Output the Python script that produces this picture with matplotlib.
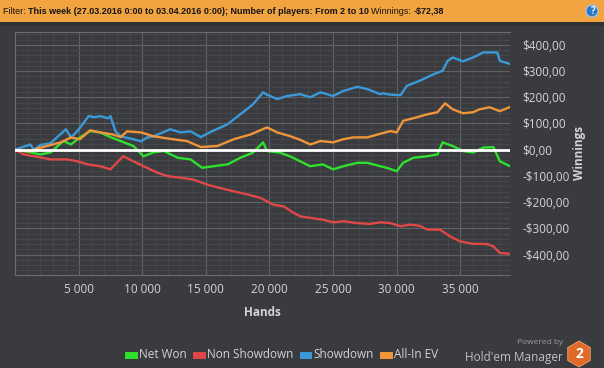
import numpy as np
import matplotlib
matplotlib.use("Agg")
import matplotlib.pyplot as plt
from matplotlib.ticker import MultipleLocator, FuncFormatter
from matplotlib.patches import Rectangle, RegularPolygon, Circle

# ---------------------------------------------------------
# Datos (manos, ganancias en $)
# ---------------------------------------------------------
net_hands = [0, 1200, 2000, 2800, 3800, 4400, 5100, 5900, 6700, 7500, 8300, 9300, 10100,
             10900, 11700, 12800, 13800, 14700, 15600, 16700, 17700, 18700, 19500, 19800,
             20800, 21600, 22400, 23200, 24200, 25000, 25800, 26900, 27700, 28700, 29200,
             30000, 30500, 31300, 32400, 33200, 33600, 34400, 35200, 36000, 36800, 37600,
             38100, 38900]
net_won = [0, -10, -18, -10, 33, 20, 47, 71, 66, 48, 33, 14, -25,
           -10, -5, -31, -37, -69, -63, -56, -31, -11, 28, -5,
           -11, -25, -44, -63, -56, -75, -63, -50, -50, -63, -69,
           -82, -50, -31, -25, -18, 28, 14, -5, -11, 8, 10,
           -44, -63]

nsd_hands = [0, 700, 1500, 2800, 4100, 4900, 5700, 6700, 7500, 8500, 9300, 10100, 11200,
             12000, 13000, 14000, 15100, 16100, 17200, 18300, 19300, 20300, 21100, 21900,
             22400, 23200, 24200, 25000, 25800, 26900, 27900, 28700, 29500, 30300, 31000,
             31800, 32400, 33400, 34200, 35000, 36000, 37100, 37600, 38100, 38900]
non_showdown = [0, -18, -25, -37, -37, -44, -56, -63, -75, -25, -44, -63, -88,
                -101, -107, -114, -133, -146, -159, -171, -184, -210, -216, -241,
                -254, -260, -267, -277, -273, -280, -283, -277, -280, -292, -286,
                -290, -305, -305, -331, -350, -359, -360, -369, -394, -397]

sd_hands = [0, 1200, 1500, 2000, 2800, 4000, 4400, 4900, 5800, 6200, 6700, 7300, 7500,
            7900, 8300, 9300, 9900, 10400, 10900, 12200, 13000, 13800, 14600, 15300,
            16700, 17700, 18700, 19500, 19800, 20600, 21400, 22400, 23200, 24000, 25000,
            25800, 26900, 27700, 28700, 28900, 29500, 30300, 30800, 31800, 32900, 33600,
            34000, 34400, 35200, 36000, 36800, 37900, 38100, 38900]
showdown = [0, 20, 0, 18, 25, 78, 47, 71, 129, 124, 128, 120, 128,
            70, 51, 40, 32, 47, 51, 78, 66, 70, 48, 66,
            97, 135, 173, 219, 210, 193, 205, 212, 200, 219, 205,
            224, 240, 231, 212, 215, 210, 208, 244, 263, 288, 301,
            339, 352, 337, 352, 371, 371, 339, 327]

ev_hands = [0, 1200, 1800, 3600, 4400, 5100, 5900, 6700, 7700, 8300, 8800, 9900, 10900,
            12400, 13500, 14600, 15900, 17200, 18500, 19800, 20600, 21600, 22400, 23200,
            24000, 25000, 25800, 26600, 27700, 28500, 29500, 30000, 30500, 31600, 32400,
            33200, 33800, 34400, 35200, 36000, 36500, 37300, 38100, 38900]
allin_ev = [0, -7, 5, 28, 47, 40, 74, 66, 58, 48, 70, 66, 51,
            40, 33, 10, 14, 40, 58, 85, 66, 52, 38, 20,
            33, 28, 40, 47, 47, 58, 71, 66, 110, 124, 135,
            143, 177, 154, 139, 143, 154, 162, 147, 163]

series = [
    ("Net Won", net_hands, net_won, "#2fe02f"),
    ("Non Showdown", nsd_hands, non_showdown, "#e04848"),
    ("Showdown", sd_hands, showdown, "#3a9ad9"),
    ("All-In EV", ev_hands, allin_ev, "#f0963a"),
]

header_parts = [
    ("Filter: ", "normal"),
    ("This week (27.03.2016 0:00 to 03.04.2016 0:00); Number of players: From 2 to 10 ", "bold"),
    ("Winnings: ", "normal"),
    ("-$72,38", "bold"),
]

# ---------------------------------------------------------
# Figura
# ---------------------------------------------------------
W, H = 604, 368
bg = "#3a3b3f"
txt = "#d4d4d4"
plt.rcParams["font.family"] = ["Open Sans", "DejaVu Sans"]

fig = plt.figure(figsize=(W / 100, H / 100), dpi=100, facecolor=bg)
px = fig.dpi_scale_trans  # coordenadas en pulgadas

# barra de filtro superior
fig.patches.append(Rectangle((0, 1 - 22 / H), 1, 22 / H, transform=fig.transFigure,
                             facecolor="#f2a440", edgecolor="none", zorder=0))
fig.patches.append(Rectangle((0, 1 - 26 / H), 1, 4 / H, transform=fig.transFigure,
                             facecolor="#303135", edgecolor="none", zorder=0))
hy = 1 - 11 / H
hfont = ["Liberation Sans Narrow", "Liberation Sans", "DejaVu Sans"]
renderer = fig.canvas.get_renderer()

def draw_header(size):
    x = 3.0
    items = []
    for s, w in header_parts:
        t = fig.text(x / W, hy, s, fontsize=size, color="#141414", weight=w,
                     va="center", family=hfont)
        x += t.get_window_extent(renderer).width
        items.append(t)
    return x, items

end, items = draw_header(8)
if abs(end - 447) > 4:
    for t in items:
        t.remove()
    end, items = draw_header(8 * (447 - 3) / (end - 3))

fig.patches.append(Circle((5.92, (H - 11) / 100), 0.06, transform=px,
                          facecolor="#2a78c8", edgecolor="#a8cdf0", lw=0.8))
fig.text(592 / W, hy, "?", fontsize=7, color="white", weight="bold", ha="center", va="center")

ax = fig.add_axes([15 / W, 1 - 275 / H, 495 / W, 243 / H])
ax.set_facecolor(bg)

for name, xs, ys, col in series:
    ax.plot(xs, ys, color=col, lw=1.7, label=name, zorder=3)
ax.axhline(0, color="white", lw=2, zorder=4)

ax.set_xlim(0, 38900)
ax.set_ylim(-478, 449)
ax.xaxis.set_major_locator(MultipleLocator(5000))
ax.xaxis.set_minor_locator(MultipleLocator(1000))
ax.yaxis.set_major_locator(MultipleLocator(100))
ax.yaxis.set_minor_locator(MultipleLocator(20))
ax.grid(which="major", color="#606266", lw=0.8, zorder=1)
ax.grid(which="minor", color="#47494d", lw=0.6, zorder=0)
ax.set_axisbelow(True)

def money(v, pos):
    s = "${:,.2f}".format(abs(v)).replace(",", " ").replace(".", ",")
    return ("-" if v < 0 else "") + s

ax.xaxis.set_major_formatter(FuncFormatter(lambda v, p: "" if v == 0 else "{:,.0f}".format(v).replace(",", " ")))
ax.yaxis.set_major_formatter(FuncFormatter(money))
ax.yaxis.tick_right()
ax.tick_params(axis="both", which="both", length=0, colors=txt, labelsize=8.5)
ax.tick_params(axis="y", pad=9)
ax.tick_params(axis="x", pad=6)
for s in ax.spines.values():
    s.set_visible(False)
for side in ("left", "bottom", "top"):
    ax.spines[side].set_visible(True)
    ax.spines[side].set_color("#6a6c70")

fig.text(262 / W, 1 - 313 / H, "Hands", fontsize=8.5, color=txt, weight="bold", ha="center", va="center")
fig.text(579 / W, 1 - 153 / H, "Winnings", fontsize=8.5, color=txt, weight="bold",
         rotation=90, ha="center", va="center")

# leyenda
leg = fig.legend(handles=ax.get_lines()[:4], loc="center", bbox_to_anchor=(283 / W, 1 - 355 / H),
                 ncol=4, frameon=False, fontsize=8.5, labelcolor=txt, handlelength=0.5,
                 handletextpad=0.4, columnspacing=0.8, handleheight=0.6)
for h in leg.legend_handles:
    h.set_linewidth(5)

# logo
fig.text(563 / W, 1 - 343 / H, "Powered by", fontsize=6, color="#9a9a9a", ha="right", va="center")
fig.text(563 / W, 1 - 357 / H, "Hold'em Manager", fontsize=8.5, color="#c0c0c0", ha="right", va="center")
fig.patches.append(RegularPolygon((5.79, (H - 354) / 100), 6, radius=0.13, orientation=0,
                                  transform=px, facecolor="#e06a2a", edgecolor="#f0a070", lw=0.6))
fig.text(579 / W, 1 - 354 / H, "2", fontsize=10, color="white", weight="bold", ha="center", va="center")

fig.savefig("out.png", dpi=100, facecolor=bg)
